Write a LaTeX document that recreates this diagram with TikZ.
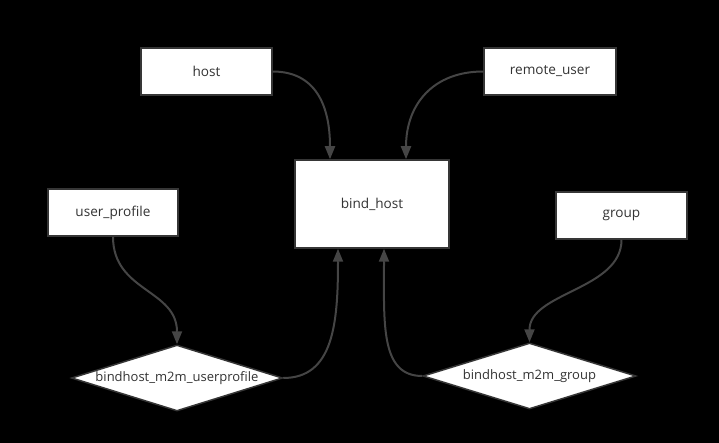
\documentclass[tikz,border=0pt]{standalone}
\usepackage{fontspec}
\setmainfont{Open Sans}
\usetikzlibrary{shapes.geometric, arrows.meta}

\definecolor{boxline}{HTML}{363636}
\definecolor{linkgray}{HTML}{454545}
\definecolor{textgray}{HTML}{333333}

\begin{document}
\begin{tikzpicture}[x=1pt, y=-1pt]
%------------------------------------------------------------------------------------------------
% Table and relation styles

    \tikzset{tablebox/.style={rectangle, draw=boxline, line width=1.5pt, fill=white,
            text=textgray, font=\fontsize{13.6}{15}\selectfont,
            minimum width=131pt, minimum height=47pt, inner sep=0pt},
        relation/.style={diamond, draw=boxline, line width=1.5pt, fill=white,
            text=textgray, font=\fontsize{13}{15}\selectfont,
            aspect=3.2, minimum width=212pt, minimum height=66pt, inner sep=0pt},
        link/.style={draw=linkgray, line width=2pt, -{Triangle[length=13pt, width=10pt]}}
    }
    \fill[black] (0,0) rectangle (719,443);
    \useasboundingbox (0,0) rectangle (719,443);

    % tables
    \node [tablebox] (host) at (206.5,71.5) {host};
    \node [tablebox, minimum width=132pt] (remoteuser) at (550,71.5) {remote\_user};
    \node [tablebox, minimum width=154pt, minimum height=88pt] (bindhost) at (372,204) {bind\_host};
    \node [tablebox, minimum width=130pt] (userprofile) at (113,212.5) {user\_profile};
    \node [tablebox] (group) at (621.5,215.5) {group};
    % relations
    \node [relation, minimum width=211pt] (m2muser) at (177,378) {bindhost\_m2m\_userprofile};
    \node [relation, minimum width=213pt] (m2mgroup) at (529.5,376) {bindhost\_m2m\_group};
%------------------------------------------------------------------------------------------------
\draw [link] (host.east) .. controls +(42,0) and +(0,-55) .. ([xshift=-42pt]bindhost.north);
\draw [link] (remoteuser.west) .. controls +(-50,0) and +(0,-55) .. ([xshift=34pt]bindhost.north);
\draw [link] (userprofile.south) .. controls +(0,55) and +(0,-55) .. (m2muser.north);
\draw [link] (group.south) .. controls +(0,50) and +(0,-50) .. (m2mgroup.north);
\draw [link] (m2muser.east) .. controls +(50,0) and +(0,75) .. ([xshift=-34pt]bindhost.south);
\draw [link] (m2mgroup.west) .. controls +(-42,0) and +(0,75) .. ([xshift=12pt]bindhost.south);

\end{tikzpicture}
\end{document}
